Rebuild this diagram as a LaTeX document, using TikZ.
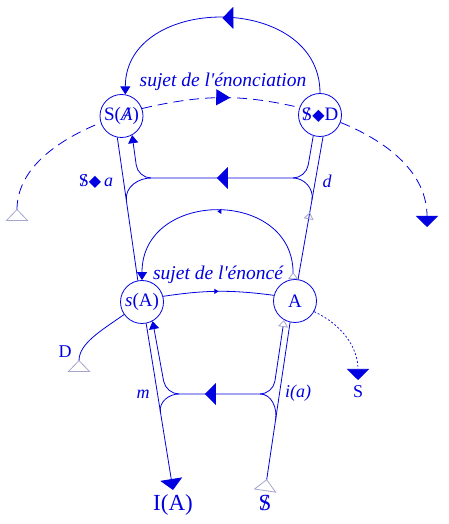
\documentclass[tikz,border=0pt]{standalone}
\usepackage{fontspec}
\setmainfont{Liberation Serif}
\newfontfamily\symfont{DejaVu Sans}
\usetikzlibrary{arrows.meta,decorations.markings}
\definecolor{lacanblue}{RGB}{0,0,225}
\definecolor{leer}{RGB}{165,165,205}
\newcommand\barS{{\ooalign{S\cr\hidewidth/\hidewidth\cr}}}
\newcommand\barA{{\ooalign{\itshape A\cr\hidewidth\itshape/\hidewidth\cr}}}
\newcommand\losange{{\fontsize{16}{16}\symfont ◆}}
\newcommand\gross[1]{\fontsize{#1}{#1}\selectfont}
\tikzset{
  bigfill/.tip={Triangle[length=11pt,width=22pt]},
  midfill/.tip={Triangle[length=14pt,width=16pt]},
  smallfill/.tip={Triangle[length=8pt,width=10pt]},
  tinyfill/.tip={Triangle[length=4pt,width=5pt]},
  hollowbig/.tip={Triangle[open,reversed,length=12pt,width=23pt,color=leer]},
  hollowsmall/.tip={Triangle[open,length=7pt,width=10pt,color=leer]},
  hollowsmallrev/.tip={Triangle[open,reversed,length=7pt,width=10pt,color=leer]},
  midtip/.style 2 args={postaction={decorate,decoration={markings,mark=at position #1 with {\arrow{#2}}}}},
}
\begin{document}
\begin{tikzpicture}[x=1pt,y=1pt,color=lacanblue,line width=0.8pt,
  ring/.style={circle,draw,minimum size=43pt,inner sep=0pt,font=\gross{19}},
  endlabel/.style={anchor=north,inner sep=5pt},
  dashline/.style={dash pattern=on 10pt off 6pt},
  dotline/.style={dash pattern=on 2pt off 2pt,line width=0.7pt}]
\useasboundingbox (0,0) rectangle (449,524);
% Knoten
\node[ring] (SA) at (121.5,408) {S(\barA)};
\node[ring] (SD) at (320,409) {\barS\losange D};
\node[ring] (PS) at (142,222) {\textit{s}(A)};
\node[ring] (GA) at (295,223) {A};
% Beschriftungen
\node[font=\gross{19.5}\itshape] (ENONCIATION) at (223,442) {sujet de l\textquotesingle énonciation};
\node[font=\gross{19.5}\itshape] (ENONCE) at (218,249) {sujet de l\textquotesingle énoncé};
\node[font=\gross{18}] (LSA) at (96,342) {\barS\losange\,\textit{a}};
\node[font=\gross{18}\itshape] (LD) at (327,343) {d};
\node[font=\gross{18}\itshape] (LM) at (143,130) {m};
\node[font=\gross{18}\itshape] (LIA) at (298,131) {i(a)};
\node[font=\gross{18}] (DD) at (65,172) {D};
\node[endlabel,inner sep=4pt,font=\gross{23}] (IA) at (173,34) {I(A)};
\node[endlabel,inner sep=4pt,font=\gross{23}] (SB) at (265,33) {\barS};
\node[endlabel,font=\gross{18}] (SS) at (358,144) {S};
\coordinate (JOUIS) at (17,303);
\coordinate (KASTR) at (427,297);
\coordinate (DEM) at (79,152);
\coordinate (OL1) at (151,346); \coordinate (OL2) at (126.5,324);
\coordinate (OR1) at (293,346); \coordinate (OR2) at (312,324);
\coordinate (UL1) at (179,130); \coordinate (UL2) at (160.4,112);
\coordinate (UR1) at (260,130); \coordinate (UR2) at (275.6,104);
% oberer Bogen
\draw[midtip={0.5}{bigfill},-{smallfill}] (SD.90) .. controls +(0,101) and +(0,101) .. (SA.80);
% gestrichelte Linie
\draw[dashline,{hollowbig}-] (JOUIS) to[out=90,in=202] (SA.198);
\draw[dashline,midtip={0.56}{midfill}] (SA.20) to[out=13,in=167] (SD.160);
\draw[dashline,-{bigfill}] (SD.340) to[out=-22,in=90] (KASTR);
% aeussere Linien oben
\draw (SA.259) -- (PS.101);
\draw[midtip={0.47}{hollowsmall}] (GA.82) -- (SD.278);
% Rueckweg oben
\draw[rounded corners=13pt,midtip={0.52}{bigfill},-{smallfill}] (SD.252) -- (306,346) -- (138,346) -- (SA.299);
\draw (OL1) to[out=180,in=98] (OL2);
\draw (OR1) to[out=0,in=80] (OR2);
% mittlerer Bogen
\draw[{hollowsmallrev}-{smallfill},midtip={0.5}{tinyfill}] (GA.95) .. controls +(0,91) and +(0,91) .. (PS.90);
\draw[midtip={0.5}{tinyfill}] (PS.15) to[bend left=8] (GA.165);
% aeussere Linien unten
\draw[-{bigfill}] (PS.281) -- (IA.north);
\draw[{hollowbig}-] (SB.north) -- (GA.257);
% Rueckweg unten
\draw[rounded corners=13pt,{hollowsmall}-{smallfill},midtip={0.56}{bigfill}] (GA.240) -- (273,130) -- (166,130) -- (PS.299);
\draw (UL1) to[out=180,in=99] (UL2);
\draw (UR1) to[out=0,in=81] (UR2);
% Seitenlinien
\draw[{hollowbig}-] (DEM) to[out=90,in=215] (PS.215);
\draw[dotline,-{bigfill}] (GA.331) to[out=-25,in=90] (SS.north);
\end{tikzpicture}
\end{document}
